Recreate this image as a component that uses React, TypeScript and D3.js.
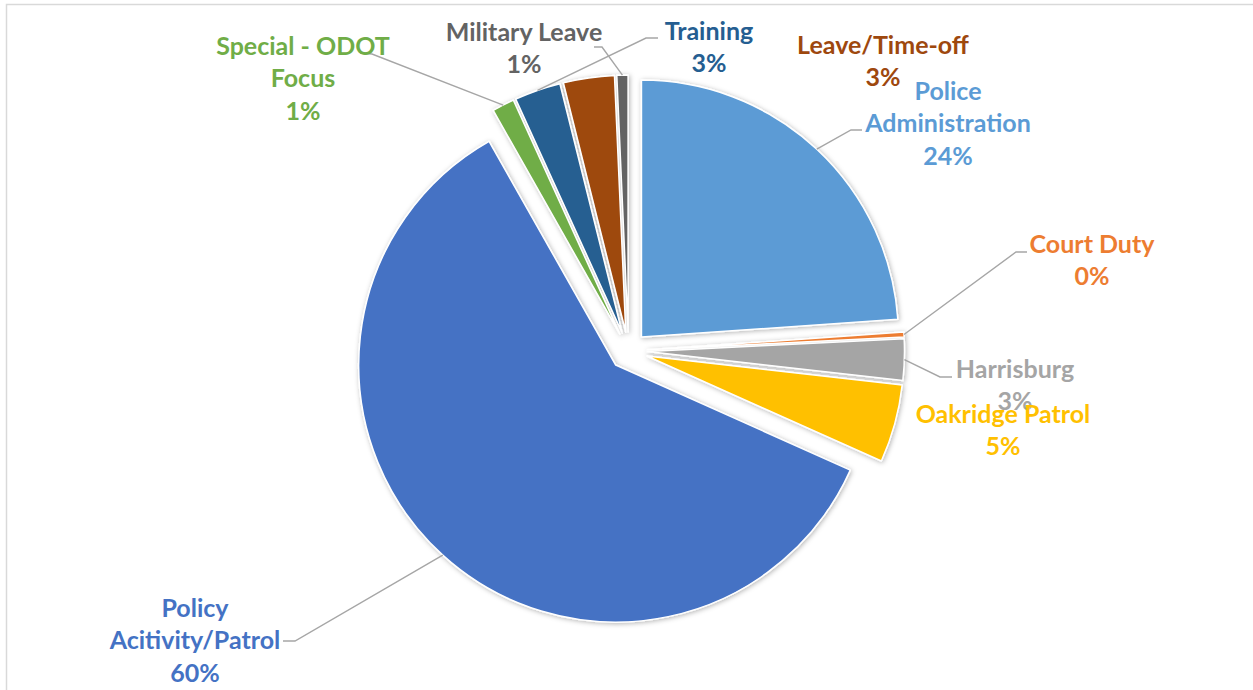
import React from "react";
import * as d3 from "d3";

const categories = [
  "Police Administration",
  "Court Duty",
  "Harrisburg",
  "Oakridge Patrol",
  "Policy Acitivity/Patrol",
  "Special - ODOT Focus",
  "Training",
  "Leave/Time-off",
  "Military Leave",
];
const values = [23.9, 0.3, 2.6, 4.9, 60.1, 1.4, 2.9, 3.2, 0.7];
const labelLines = [
  ["Police", "Administration"],
  ["Court Duty"],
  ["Harrisburg"],
  ["Oakridge Patrol"],
  ["Policy", "Acitivity/Patrol"],
  ["Special - ODOT", "Focus"],
  ["Training"],
  ["Leave/Time-off"],
  ["Military Leave"],
];
const colors = [
  "#5B9BD5",
  "#ED7D31",
  "#A5A5A5",
  "#FFC000",
  "#4472C4",
  "#70AD47",
  "#255E91",
  "#9E480E",
  "#636363",
];

// layout (label centre of first line, leader start points)
const labelPos: [number, number][] = [
  [948, 91],
  [1092, 244],
  [1015, 369],
  [1003, 414],
  [195, 608],
  [303, 46],
  [709, 31],
  [883, 45],
  [524, 32],
];
const leaderStart: ([number, number][] | null)[] = [
  [[862, 130], [851, 130]],
  [[1027, 252], [1016, 252]],
  [[952, 377], [940, 377]],
  null,
  [[283, 641], [295, 641]],
  [[360, 53], [372, 54]],
  [[658, 38], [646, 38]],
  null,
  [[594, 47], [602, 47]],
];

export default function App() {
  const W = 1253;
  const H = 690;
  const cx = 628.5;
  const cy = 351;
  const r = 257;
  const explode = 19;
  const fontSize = 25;
  const lineH = 32.5;

  const total = d3.sum(values);
  const pie = d3.pie<number>().sort(null).value((d) => d);
  const arcs = pie(values);
  const arcGen = d3.arc<d3.PieArcDatum<number>>().innerRadius(0).outerRadius(r);

  return (
    <svg
      width={W}
      height={H}
      style={{ position: "fixed", left: 0, top: 0, background: "#fff" }}
      fontFamily="Lato, 'Open Sans', sans-serif"
    >
      <defs>
        <filter id="sh" x="-20%" y="-20%" width="140%" height="140%">
          <feDropShadow dx="1" dy="1" stdDeviation="2.5" floodColor="#000" floodOpacity="0.3" />
        </filter>
      </defs>
      <rect x={0} y={0} width={W} height={H} fill="#fff" />
      <rect x={6.5} y={4.5} width={1400} height={900} fill="none" stroke="#D9D9D9" strokeWidth={1.5} />
      <g transform={`translate(${cx},${cy})`} filter="url(#sh)">
        {arcs.map((a, i) => {
          const mid = (a.startAngle + a.endAngle) / 2;
          const ox = explode * Math.sin(mid);
          const oy = -explode * Math.cos(mid);
          return (
            <path
              key={categories[i]}
              d={arcGen(a) || ""}
              transform={`translate(${ox},${oy})`}
              fill={colors[i]}
              stroke="#fff"
              strokeWidth={1.5}
              strokeLinejoin="round"
            />
          );
        })}
      </g>
      <g>
        {arcs.map((a, i) => {
          const ls = leaderStart[i];
          if (!ls) return null;
          const mid = (a.startAngle + a.endAngle) / 2;
          const ex = cx + (explode + r) * Math.sin(mid);
          const ey = cy - (explode + r) * Math.cos(mid);
          const pts = [...ls, [ex, ey]];
          return (
            <polyline
              key={"l" + i}
              points={pts.map((p) => p.join(",")).join(" ")}
              fill="none"
              stroke="#A6A6A6"
              strokeWidth={1.4}
            />
          );
        })}
      </g>
      <g fontWeight="bold" fontSize={fontSize} textAnchor="middle">
        {arcs.map((a, i) => {
          const [lx, ly] = labelPos[i];
          const lines = [...labelLines[i], `${Math.round((values[i] / total) * 100)}%`];
          return (
            <text key={"t" + i} fill={colors[i]}>
              {lines.map((t, j) => (
                <tspan key={j} x={lx} y={ly + j * lineH + 8.5}>
                  {t}
                </tspan>
              ))}
            </text>
          );
        })}
      </g>
    </svg>
  );
}
